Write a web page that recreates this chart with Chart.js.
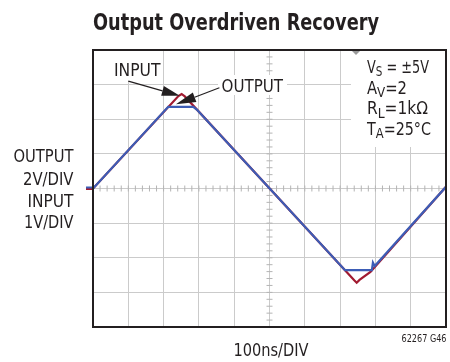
<!DOCTYPE html>
<html>
<head>
<meta charset="utf-8">
<script src="https://cdn.jsdelivr.net/npm/chart.js@4.4.1/dist/chart.umd.min.js"></script>
<style>
  html, body { margin:0; padding:0; background:#fff; }
  #wrap { width:450px; height:362px; position:relative; }
</style>
</head>
<body>
<div id="wrap"><canvas id="scope" width="450" height="362"></canvas></div>
<script>
// scope trace, x in divisions (100ns/DIV), y in divisions
const inputTime   = [0, 2.42, 2.51, 2.60, 7.40, 7.47, 7.55, 7.86, 10];
const inputLevel  = [0, 2.67, 2.73, 2.66, -2.65, -2.72, -2.64, -2.41, 0.05];
const outputTime  = [0, 2.13, 2.84, 2.94, 7.14, 7.90, 7.93, 7.98, 10];
const outputLevel = [0, 2.36, 2.36, 2.28, -2.36, -2.36, -2.14, -2.24, 0.05];

const RED = '#a11a30', BLUE = '#3d5db6', INK = '#231f20';
const FONT = "'Liberation Sans Narrow','DejaVu Sans Condensed','Liberation Sans',sans-serif";

const pts = (ts, vs) => ts.map((t, i) => ({ x: t, y: vs[i] }));

function fitText(ctx, txt, x, y, size, weight, width, align) {
  ctx.font = `${weight} ${size}px ${FONT}`;
  const w = ctx.measureText(txt).width;
  const sx = width ? width / w : 1;
  ctx.save();
  ctx.translate(x, y);
  ctx.scale(sx, 1);
  ctx.textAlign = align || 'left';
  ctx.textBaseline = 'alphabetic';
  ctx.fillText(txt, 0, 0);
  ctx.restore();
}

// text with subscripts, squeezed to a given width: parts = [[text, isSub], ...]
function richText(ctx, parts, x, y, width) {
  let total = 0;
  parts.forEach(([t, sub]) => {
    ctx.font = `normal ${sub ? 14.5 : 18}px ${FONT}`;
    total += ctx.measureText(t).width;
  });
  ctx.save();
  ctx.translate(x, y);
  ctx.scale(width / total, 1);
  ctx.textAlign = 'left';
  ctx.textBaseline = 'alphabetic';
  let cx = 0;
  parts.forEach(([t, sub]) => {
    ctx.font = `normal ${sub ? 14.5 : 18}px ${FONT}`;
    ctx.fillText(t, cx, sub ? 3.5 : 0);
    cx += ctx.measureText(t).width;
  });
  ctx.restore();
}

function arrow(ctx, x0, y0, x1, y1, len, half) {
  const a = Math.atan2(y1 - y0, x1 - x0);
  const bx = x1 - Math.cos(a) * len, by = y1 - Math.sin(a) * len;
  ctx.beginPath();
  ctx.moveTo(x0, y0);
  ctx.lineTo(bx, by);
  ctx.lineWidth = 1.2;
  ctx.strokeStyle = INK;
  ctx.stroke();
  ctx.beginPath();
  ctx.moveTo(x1, y1);
  ctx.lineTo(bx + Math.sin(a) * half, by - Math.cos(a) * half);
  ctx.lineTo(bx - Math.sin(a) * half, by + Math.cos(a) * half);
  ctx.closePath();
  ctx.fillStyle = INK;
  ctx.fill();
}

const scopeDecor = {
  id: 'scopeDecor',
  beforeDatasetsDraw(chart) {
    const { ctx, chartArea: a, scales: { x, y } } = chart;
    const cx = x.getPixelForValue(5), cy = y.getPixelForValue(0);
    ctx.save();
    // minor ticks on the centre lines
    ctx.strokeStyle = '#b4b4b4';
    ctx.lineWidth = 1;
    ctx.beginPath();
    for (let k = 1; k < 50; k++) {
      const px = x.getPixelForValue(k * 0.2);
      ctx.moveTo(px, cy - 3); ctx.lineTo(px, cy + 3);
    }
    for (let k = 1; k < 40; k++) {
      const py = y.getPixelForValue(-4 + k * 0.2);
      ctx.moveTo(cx - 3, py); ctx.lineTo(cx + 3, py);
    }
    ctx.stroke();
    // blank patches under the labels
    ctx.fillStyle = '#fff';
    ctx.fillRect(111, a.top + 1, 51, 80 - a.top);
    ctx.fillRect(218, 75, 69, 20);
    ctx.fillRect(351, a.top + 1, a.right - 352, 146 - a.top);
    ctx.restore();
  },
  afterDraw(chart) {
    const { ctx, chartArea: a, scales: { x, y } } = chart;
    ctx.save();
    // frame
    ctx.strokeStyle = INK;
    ctx.lineWidth = 2;
    ctx.strokeRect(a.left, a.top, a.right - a.left, a.bottom - a.top);

    // ground markers left of the screen
    const gy = y.getPixelForValue(0);
    ctx.lineWidth = 2;
    ctx.strokeStyle = RED;
    ctx.beginPath(); ctx.moveTo(a.left - 7, gy + 0.5); ctx.lineTo(a.left - 1, gy + 0.5); ctx.stroke();
    ctx.strokeStyle = BLUE;
    ctx.beginPath(); ctx.moveTo(a.left - 7, gy - 1); ctx.lineTo(a.left - 1, gy - 1); ctx.stroke();

    // trigger marker
    const tx = x.getPixelForValue(7.45);
    ctx.fillStyle = '#9a9a9a';
    ctx.beginPath();
    ctx.moveTo(tx - 4, a.top + 1); ctx.lineTo(tx + 4, a.top + 1); ctx.lineTo(tx, a.top + 5);
    ctx.closePath(); ctx.fill();

    // arrows
    arrow(ctx, x.getPixelForValue(1.0), y.getPixelForValue(3.10),
               x.getPixelForValue(2.46), y.getPixelForValue(2.68), 18, 5);
    arrow(ctx, x.getPixelForValue(3.58), y.getPixelForValue(2.91),
               x.getPixelForValue(2.35), y.getPixelForValue(2.43), 20, 5);

    // text
    ctx.fillStyle = INK;
    fitText(ctx, 'Output Overdriven Recovery', 93, 29.5, 23, 'bold', 286, 'left');
    fitText(ctx, 'INPUT', 114, 76, 18, 'normal', 46.5, 'left');
    fitText(ctx, 'OUTPUT', 221.5, 91.5, 18, 'normal', 61.5, 'left');

    fitText(ctx, 'OUTPUT', 73.5, 161.5, 18, 'normal', 60, 'right');
    fitText(ctx, '2V/DIV', 73.5, 185, 18, 'normal', 50.5, 'right');
    fitText(ctx, 'INPUT', 73.5, 206.5, 18, 'normal', 46, 'right');
    fitText(ctx, '1V/DIV', 73.5, 228, 18, 'normal', 49.5, 'right');

    fitText(ctx, '100ns/DIV', 271, 356, 18, 'normal', 75, 'center');
    fitText(ctx, '62267 G46', 446.5, 341.5, 10, 'normal', 45, 'right');

    richText(ctx, [['V'], ['S', true], [' = ±5V']], 367, 72.5, 62);
    richText(ctx, [['A'], ['V', true], ['=2']], 367, 93.5, 40);
    richText(ctx, [['R'], ['L', true], ['=1kΩ']], 367, 114, 61);
    richText(ctx, [['T'], ['A', true], ['=25°C']], 367, 134.5, 64);
    ctx.restore();
  }
};

const gridOpts = { color: '#cbcbcb', lineWidth: 1, drawTicks: false };

new Chart(document.getElementById('scope'), {
  type: 'scatter',
  data: {
    datasets: [
      { label: 'OUTPUT', data: pts(outputTime, outputLevel), showLine: true,
        borderColor: BLUE, borderWidth: 2.2, pointRadius: 0, tension: 0, order: 0 },
      { label: 'INPUT', data: pts(inputTime, inputLevel), showLine: true,
        borderColor: RED, borderWidth: 2.2, pointRadius: 0, tension: 0, order: 1 }
    ]
  },
  options: {
    responsive: false,
    devicePixelRatio: 1,
    animation: false,
    layout: { padding: { left: 93, right: 4, top: 50, bottom: 35 } },
    plugins: { legend: { display: false }, tooltip: { enabled: false }, title: { display: false } },
    scales: {
      x: { type: 'linear', min: 0, max: 10, ticks: { display: false, stepSize: 1 },
           grid: gridOpts, border: { display: false } },
      y: { type: 'linear', min: -4, max: 4, ticks: { display: false, stepSize: 1 },
           grid: gridOpts, border: { display: false } }
    }
  },
  plugins: [scopeDecor]
});
</script>
</body>
</html>
